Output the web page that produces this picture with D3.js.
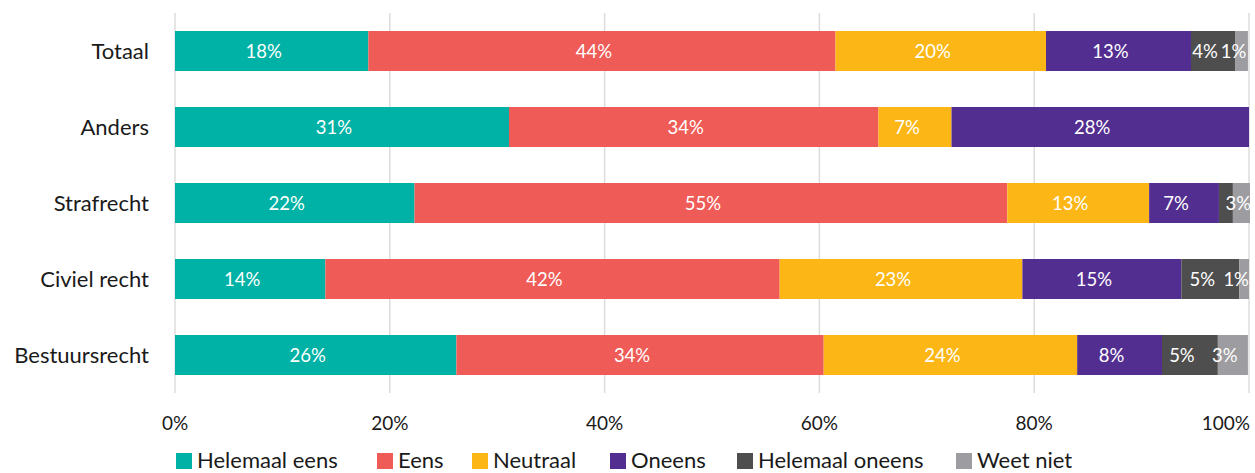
<!DOCTYPE html>
<html>
<head>
<meta charset="utf-8">
<script src="https://cdn.jsdelivr.net/npm/d3@7"></script>
<style>
  body { margin: 0; background: #fff; }
  svg { display: block; font-family: Lato, "Noto Sans", sans-serif; }
</style>
</head>
<body>
<svg id="chart" width="1255" height="473"></svg>
<script>
// categories, top to bottom
const categories = ["Totaal", "Anders", "Strafrecht", "Civiel recht", "Bestuursrecht"];
const seriesNames = ["Helemaal eens", "Eens", "Neutraal", "Oneens", "Helemaal oneens", "Weet niet"];
const seriesColors = ["#00b2a5", "#ef5b56", "#fcb716", "#532e91", "#4e4e4e", "#9d9da1"];

// values per category, in series order (percent)
const helemaalEens   = [18.0, 31.1, 22.3, 14.0, 26.2];
const eens           = [43.5, 34.4, 55.2, 42.3, 34.2];
const neutraal       = [19.6, 6.8, 13.2, 22.6, 23.6];
const oneens         = [13.5, 27.7, 6.5, 14.8, 7.9];
const helemaalOneens = [4.1, 0, 1.3, 5.4, 5.2];
const weetNiet       = [1.2, 0, 2.5, 0.9, 2.8];

// labels as printed on the bars (null = no label)
const labelsHelemaalEens   = ["18%", "31%", "22%", "14%", "26%"];
const labelsEens           = ["44%", "34%", "55%", "42%", "34%"];
const labelsNeutraal       = ["20%", "7%", "13%", "23%", "24%"];
const labelsOneens         = ["13%", "28%", "7%", "15%", "8%"];
const labelsHelemaalOneens = ["4%", null, null, "5%", "5%"];
const labelsWeetNiet       = ["1%", null, "3%", "1%", "3%"];

const xTicks = [0, 20, 40, 60, 80, 100];

const allValues = [helemaalEens, eens, neutraal, oneens, helemaalOneens, weetNiet];
const allLabels = [labelsHelemaalEens, labelsEens, labelsNeutraal, labelsOneens, labelsHelemaalOneens, labelsWeetNiet];

const svg = d3.select("#chart");
const plotLeft = 175, plotRight = 1249, plotTop = 13, plotBottom = 393;
const legendX = [176, 377, 472, 610, 737, 956]; // legend item positions

const x = d3.scaleLinear().domain([0, 100]).range([plotLeft, plotRight]);
const y = d3.scaleBand().domain(categories).range([plotTop, plotBottom])
    .paddingInner(36 / 76).paddingOuter(18 / 76);

// stacked rows
const rows = categories.map((c, i) => {
    const row = { cat: c };
    seriesNames.forEach((s, j) => row[s] = allValues[j][i]);
    return row;
});
const stacked = d3.stack().keys(seriesNames)(rows);

// gridlines
svg.append("g").selectAll("line").data(xTicks).join("line")
    .attr("x1", d => x(d)).attr("x2", d => x(d))
    .attr("y1", plotTop).attr("y2", plotBottom)
    .attr("stroke", "#dcdcdc").attr("stroke-width", 1.5);

svg.append("clipPath").attr("id", "plotclip")
    .append("rect").attr("x", plotLeft).attr("y", 0).attr("width", plotRight - plotLeft + 1).attr("height", 473);

const barG = svg.append("g").attr("clip-path", "url(#plotclip)");
stacked.forEach((layer, j) => {
    const g = barG.append("g").attr("fill", seriesColors[j]);
    g.selectAll("rect").data(layer).join("rect")
        .attr("x", d => x(d[0]))
        .attr("y", d => y(d.data.cat))
        .attr("width", d => Math.max(0, x(d[1]) - x(d[0])))
        .attr("height", y.bandwidth());
});

// labels on bars
const labelG = svg.append("g").attr("clip-path", "url(#plotclip)");
stacked.forEach((layer, j) => {
    labelG.append("g").selectAll("text").data(layer.filter((d, i) => allLabels[j][i] !== null))
        .join("text")
        .attr("x", d => (x(d[0]) + x(d[1])) / 2 - 8)
        .attr("y", d => y(d.data.cat) + y.bandwidth() / 2 + 6.5)
        .attr("text-anchor", "middle")
        .attr("fill", "#fff")
        .attr("font-size", 18.5)
        .text(d => allLabels[j][categories.indexOf(d.data.cat)]);
});

// category axis
svg.append("g").selectAll("text").data(categories).join("text")
    .attr("x", plotLeft - 26)
    .attr("y", d => y(d) + y.bandwidth() / 2 + 8)
    .attr("text-anchor", "end")
    .attr("fill", "#1a1a1a")
    .attr("font-size", 22)
    .text(d => d);

// x axis labels
svg.append("g").selectAll("text").data(xTicks).join("text")
    .attr("x", d => d === 100 ? x(d) + 1 : x(d))
    .attr("y", 430)
    .attr("text-anchor", d => d === 100 ? "end" : "middle")
    .attr("fill", "#1a1a1a")
    .attr("font-size", 19)
    .text(d => d + "%");

// legend
const legend = svg.append("g");
seriesNames.forEach((s, j) => {
    const item = legend.append("g").attr("transform", `translate(${legendX[j]},0)`);
    item.append("rect").attr("x", 0).attr("y", 453).attr("width", 16).attr("height", 16)
        .attr("fill", seriesColors[j]);
    item.append("text").attr("x", 21).attr("y", 468)
        .attr("fill", "#1a1a1a").attr("font-size", 22).text(s);
});
</script>
</body>
</html>
